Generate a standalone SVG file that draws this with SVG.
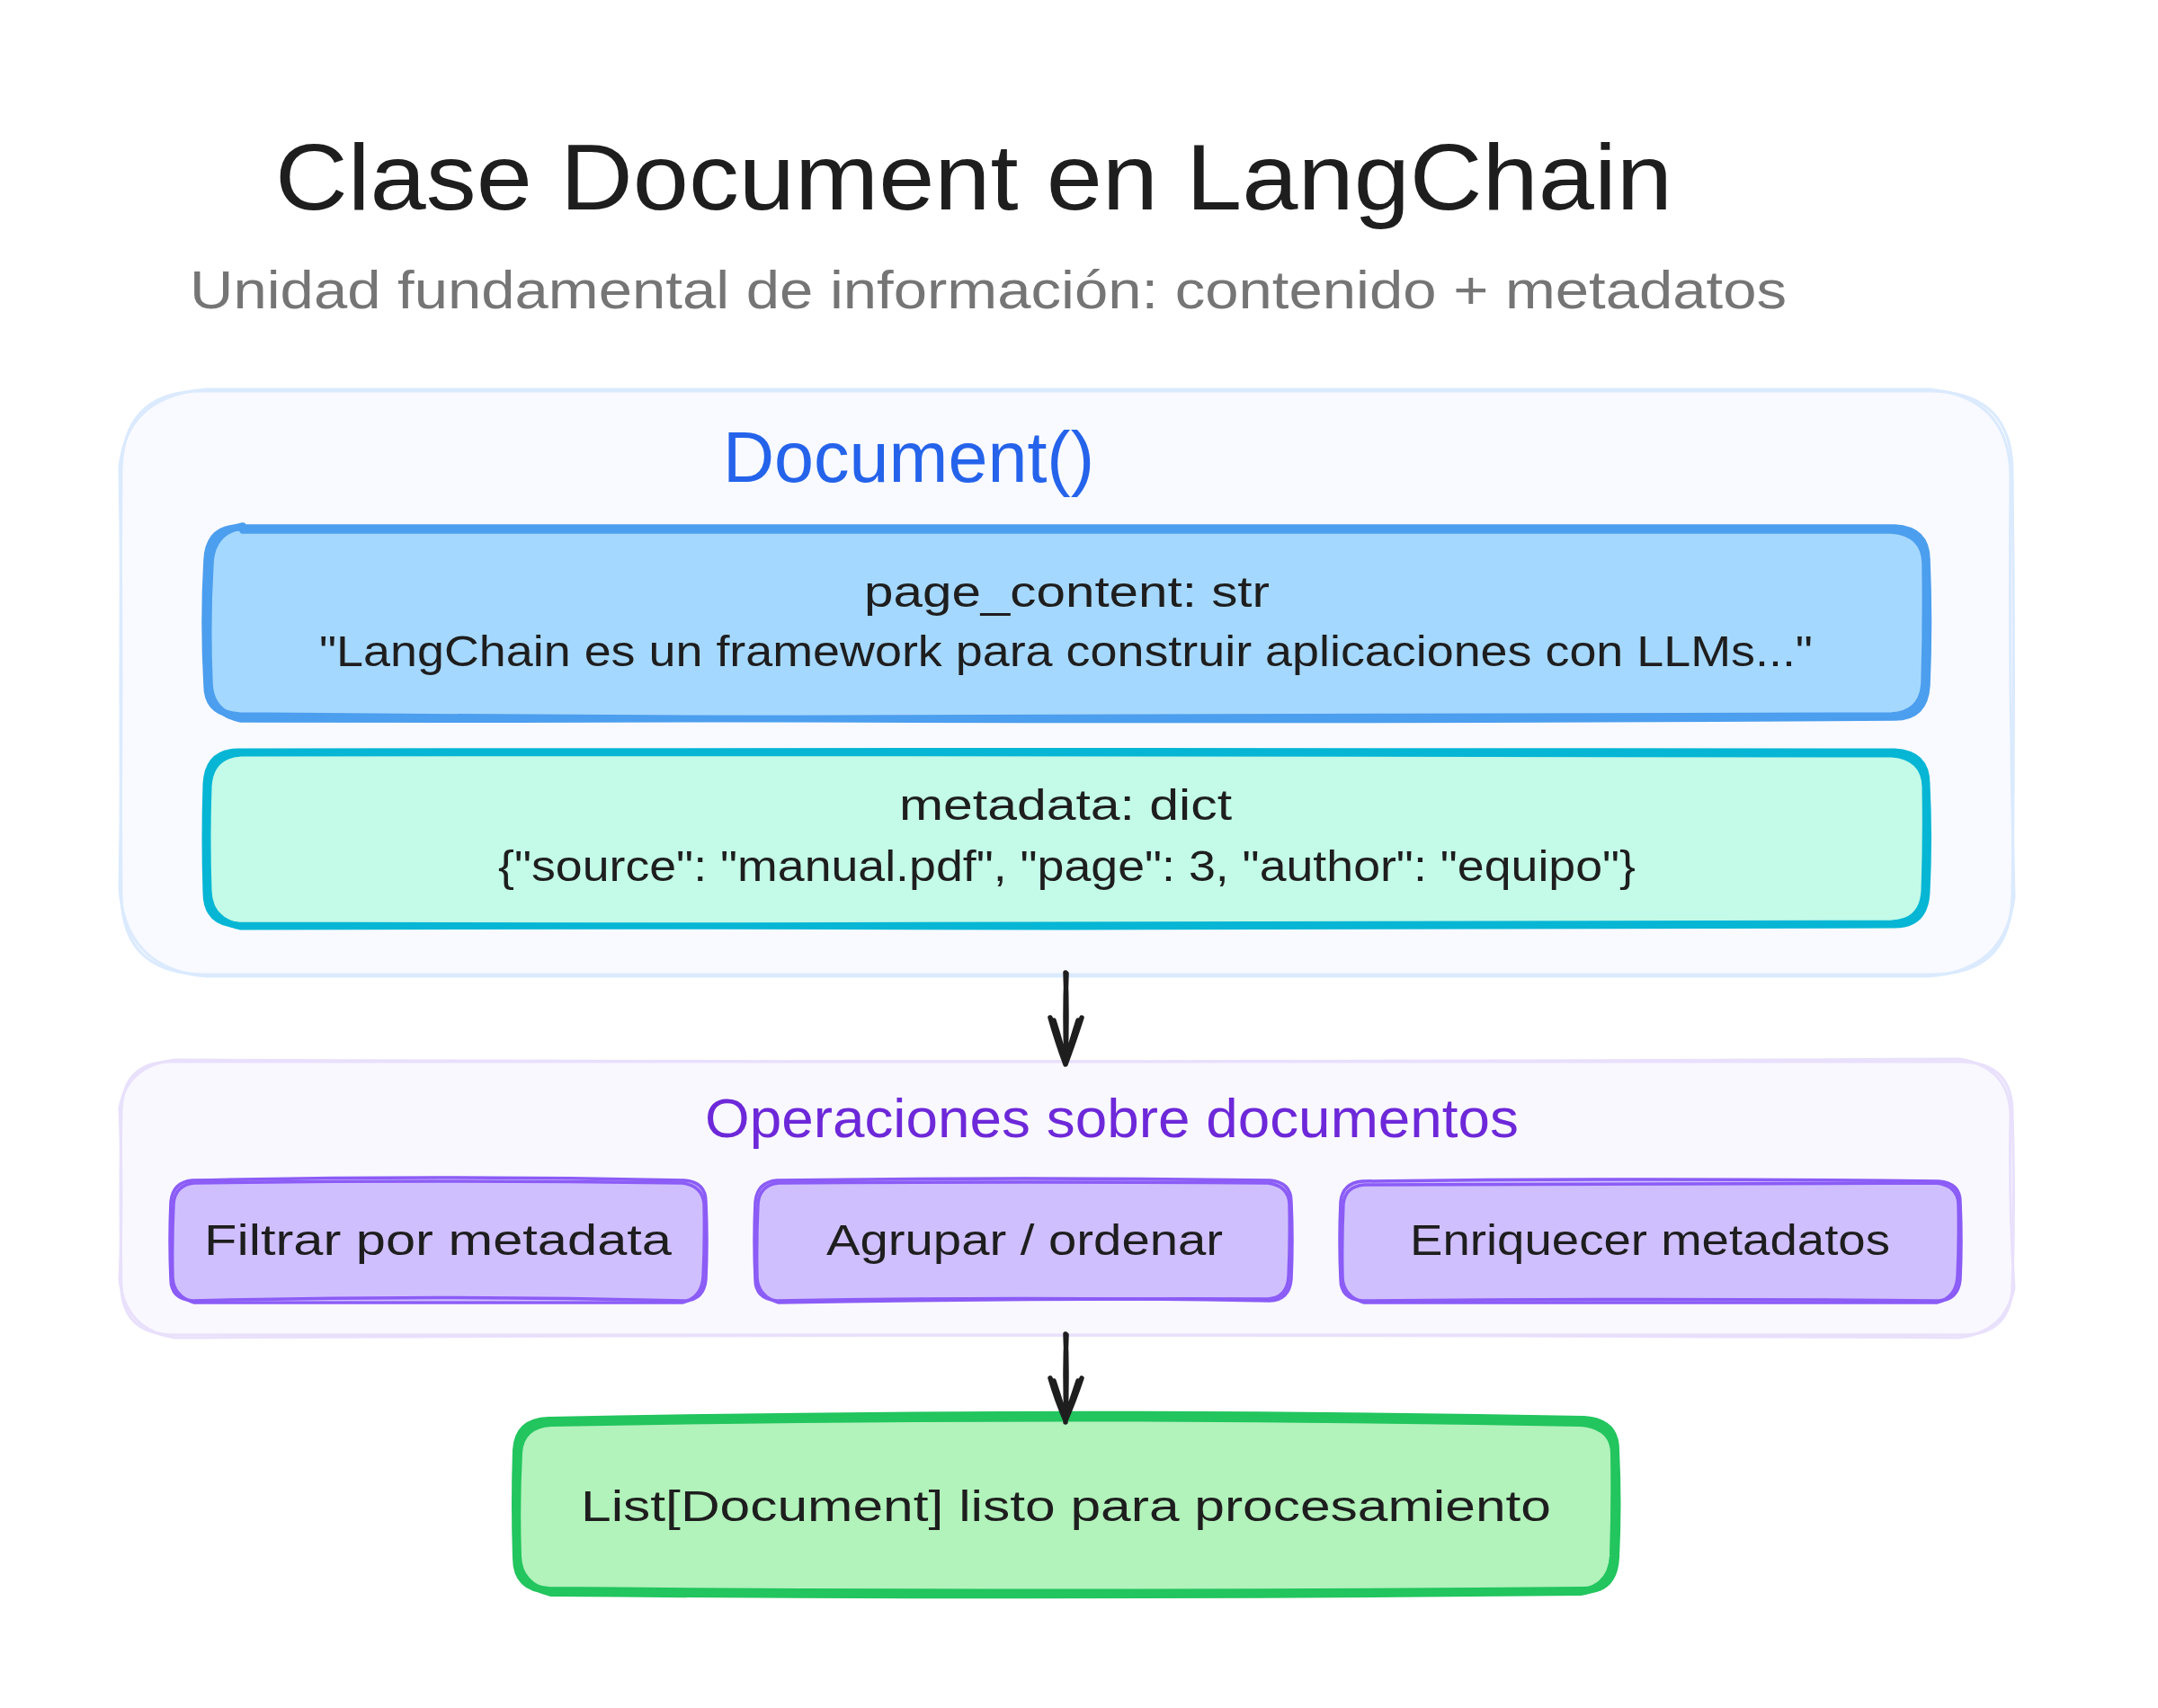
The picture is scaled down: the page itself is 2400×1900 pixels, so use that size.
<svg xmlns="http://www.w3.org/2000/svg" width="2400" height="1900" viewBox="0 0 2400 1900">
<style>
text{font-family:"Liberation Sans","Noto Sans",sans-serif;fill:#1e1e1e}
.s{fill:none;stroke-linecap:round;stroke-linejoin:round}
.blue{stroke:#dbeafe;stroke-width:3}
.vio{stroke:#e9e0fc;stroke-width:3}
.pc{stroke:#4c9eee;stroke-width:7.5}
.md{stroke:#06b6d4;stroke-width:7}
.op{stroke:#8b5cf6;stroke-width:3.5}
.gr{stroke:#22c55e;stroke-width:8}
.ar{fill:none;stroke:#1e1e1e;stroke-width:5.5;stroke-linecap:round;stroke-linejoin:round}
.b{font-size:48px}
.o{font-size:48px}
</style>
<rect width="2400" height="1900" fill="#fff"/>
<g id="title"><text x="306" y="233" font-size="104" lengthAdjust="spacingAndGlyphs" textLength="1554">Clase Document en LangChain</text></g>
<g id="subtitle"><text x="211" y="343" font-size="60" style="fill:#757575" lengthAdjust="spacingAndGlyphs" textLength="1776">Unidad fundamental de información: contenido + metadatos</text></g>
<g id="document">
<rect x="135" y="435" width="2103" height="649" rx="90" fill="#f8faff"/>
<path class="s blue" d="M225 435Q1186 431 2148 435Q2238 437 2238 525Q2241 760 2238 994Q2237 1084 2148 1084Q1186 1086 225 1084Q135 1082 135 994Q133 760 135 525Q136 435 225 435Z"/>
<path class="s blue" d="M231 433Q1186 436 2145 433Q2235 441 2236 530Q2234 760 2240 998Q2230 1080 2145 1086Q1186 1082 229 1086Q139 1078 133 988Q137 760 133 520Q141 439 231 433Z"/>
<text x="804" y="536" font-size="80" style="fill:#2563eb" lengthAdjust="spacingAndGlyphs" textLength="413">Document()</text>
</g>
<g id="page-content">
<rect x="230" y="587" width="1913" height="211" rx="36" fill="#a5d8ff"/>
<path class="s pc" d="M266 587Q1186 585 2107 587Q2143 589 2143 623Q2146 692 2143 762Q2141 798 2107 798Q1186 804 266 796Q230 794 230 762Q226 692 230 623Q232 587 266 587Z"/>
<path class="s pc" d="M270 590Q1186 588 2104 590Q2140 593 2141 626Q2142 692 2140 760Q2138 794 2104 796Q1186 801 268 800Q234 793 233 760Q230 692 234 626Q236 591 270 585"/>
<text class="b" x="961" y="675" lengthAdjust="spacingAndGlyphs" textLength="451">page_content: str</text>
<text class="b" x="355" y="741" lengthAdjust="spacingAndGlyphs" textLength="1661">"LangChain es un framework para construir aplicaciones con LLMs..."</text>
</g>
<g id="metadata">
<rect x="229" y="835" width="1914" height="194" rx="36" fill="#c3fae8"/>
<path class="s md" d="M265 836Q1186 835 2107 836Q2143 838 2143 872Q2146 932 2143 993Q2141 1029 2107 1029Q1186 1033 265 1029Q229 1027 229 993Q227 932 229 872Q231 836 265 836Z"/>
<path class="s md" d="M268 838Q1186 837 2104 839Q2140 842 2141 875Q2142 932 2140 991Q2138 1026 2104 1027Q1186 1031 268 1031Q233 1024 232 991Q230 932 232 875Q234 840 268 838"/>
<text class="b" x="1000" y="912" lengthAdjust="spacingAndGlyphs" textLength="370">metadata: dict</text>
<text class="b" x="554" y="980" lengthAdjust="spacingAndGlyphs" textLength="1265">{"source": "manual.pdf", "page": 3, "author": "equipo"}</text>
</g>
<g id="operaciones">
<rect x="135" y="1180" width="2103" height="305" rx="56" fill="#f9f8fe"/>
<path class="s vio" d="M191 1181Q1186 1178 2182 1181Q2238 1183 2238 1237Q2241 1335 2238 1429Q2237 1485 2182 1485Q1186 1488 191 1485Q135 1483 135 1429Q133 1335 135 1237Q136 1181 191 1181Z"/>
<path class="s vio" d="M195 1179Q1186 1183 2179 1178Q2235 1187 2236 1241Q2234 1335 2240 1433Q2230 1482 2179 1488Q1186 1483 195 1488Q139 1480 133 1423Q137 1335 133 1233Q141 1185 195 1179Z"/>
<text x="784" y="1265" font-size="62" style="fill:#6d28d9" lengthAdjust="spacingAndGlyphs" textLength="905">Operaciones sobre documentos</text>
</g>
<g id="filtrar">
<rect x="190" y="1313" width="595" height="134" rx="24" fill="#d0bfff"/>
<path class="s op" d="M214 1313Q485 1307 761 1313Q785 1315 785 1337Q787 1380 785 1423Q783 1446 761 1447Q485 1440 214 1447Q190 1445 190 1423Q188 1380 190 1337Q192 1315 214 1313Z"/>
<path class="s op" d="M216 1316Q485 1312 759 1316Q781 1319 783 1339Q784 1380 782 1421Q780 1444 759 1449Q485 1450 216 1449Q193 1442 192 1421Q191 1380 193 1339Q195 1318 216 1316"/>
<text class="o" x="227" y="1396" lengthAdjust="spacingAndGlyphs" textLength="520">Filtrar por metadata</text>
</g>
<g id="agrupar">
<rect x="840" y="1313" width="596" height="134" rx="24" fill="#d0bfff"/>
<path class="s op" d="M864 1313Q1138 1309 1412 1313Q1436 1315 1436 1337Q1438 1380 1436 1423Q1434 1446 1412 1447Q1138 1442 864 1447Q840 1445 840 1423Q838 1380 840 1337Q842 1315 864 1313Z"/>
<path class="s op" d="M866 1316Q1138 1314 1410 1316Q1433 1319 1434 1339Q1435 1380 1433 1421Q1431 1444 1410 1445Q1138 1444 866 1449Q843 1442 842 1421Q841 1380 843 1339Q845 1318 866 1316"/>
<text class="o" x="919" y="1396" lengthAdjust="spacingAndGlyphs" textLength="441">Agrupar / ordenar</text>
</g>
<g id="enriquecer">
<rect x="1491" y="1313" width="689" height="134" rx="24" fill="#d0bfff"/>
<path class="s op" d="M1515 1314Q1835 1310 2156 1314Q2180 1316 2180 1337Q2182 1380 2180 1423Q2178 1446 2156 1447Q1835 1444 1515 1447Q1491 1445 1491 1423Q1489 1380 1491 1337Q1493 1316 1515 1314Z"/>
<path class="s op" d="M1517 1318Q1835 1316 2154 1316Q2177 1319 2178 1339Q2179 1380 2177 1421Q2175 1444 2154 1449Q1835 1450 1517 1449Q1494 1442 1493 1421Q1492 1380 1494 1339Q1496 1320 1517 1318"/>
<text class="o" x="1568" y="1396" lengthAdjust="spacingAndGlyphs" textLength="534">Enriquecer metadatos</text>
</g>
<g id="resultado">
<rect x="574" y="1577" width="1223" height="192" rx="36" fill="#b2f2bb"/>
<path class="s gr" d="M610 1580Q1186 1568 1761 1579Q1797 1581 1797 1613Q1800 1673 1797 1733Q1795 1769 1761 1769Q1186 1774 610 1769Q574 1767 574 1733Q572 1673 574 1613Q576 1581 610 1580Z"/>
<path class="s gr" d="M613 1583Q1186 1572 1758 1583Q1794 1586 1795 1616Q1796 1673 1794 1731Q1792 1766 1758 1771Q1186 1777 613 1772Q577 1764 576 1731Q574 1673 577 1616Q579 1585 613 1583"/>
<text class="b" x="646" y="1692" lengthAdjust="spacingAndGlyphs" textLength="1079">List[Document] listo para procesamiento</text>
</g>
<g id="connectors">
<path class="ar" d="M1185 1082Q1187 1130 1185 1182M1186 1083Q1184 1130 1186 1180M1168 1132Q1176 1160 1185 1184Q1194 1160 1203 1132M1172 1135Q1180 1160 1185 1182Q1191 1160 1199 1135"/>
<path class="ar" d="M1185 1484Q1187 1530 1185 1582M1186 1485Q1184 1530 1186 1578M1168 1533Q1176 1560 1185 1580Q1194 1560 1203 1533M1172 1536Q1180 1560 1185 1578Q1191 1560 1199 1536"/>
</g>
</svg>
